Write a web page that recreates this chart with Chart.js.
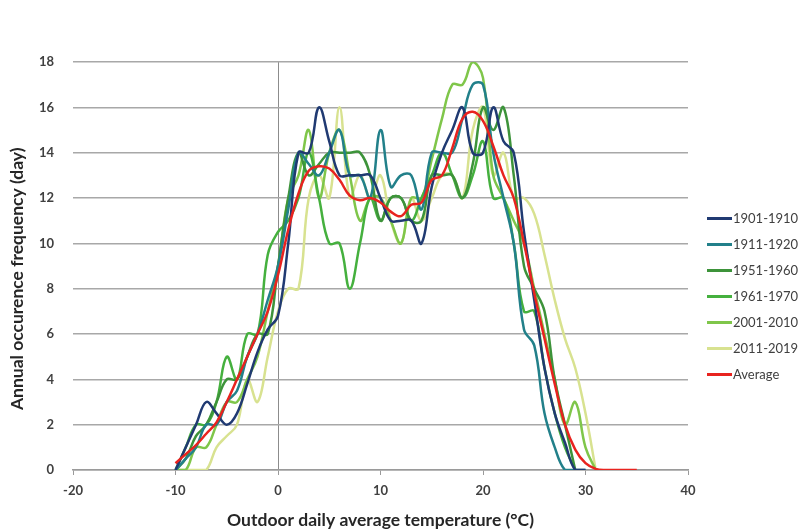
<!DOCTYPE html>
<html>
<head>
<meta charset="utf-8">
<script src="https://cdn.jsdelivr.net/npm/chart.js@4.4.1/dist/chart.umd.min.js"></script>
<style>
  body { margin: 0; background: #fff; }
  #wrap { position: relative; width: 804px; height: 532px; }
  #legend { position: absolute; left: 707px; top: 205px; font-family: Lato, "Open Sans", sans-serif; font-size: 13px; color: #404040; }
  .item { height: 26px; display: flex; align-items: center; }
  .swatch { width: 25px; height: 3px; margin-right: 1px; }
</style>
</head>
<body>
<div id="wrap">
  <canvas id="tempChart" width="804" height="532"></canvas>
  <div id="legend"></div>
</div>
<script>
// Outdoor daily average temperature (°C), one point per degree
const temps = [-10, -9, -8, -7, -6, -5, -4, -3, -2, -1, 0, 1, 2, 3, 4, 5, 6, 7, 8, 9,
    10, 11, 12, 13, 14, 15, 16, 17, 18, 19, 20, 21, 22, 23, 24, 25, 26, 27, 28, 29,
    30, 31, 32, 33, 34, 35];

// Annual occurrence frequency (days) per period
const days1901 = [0, 1, 2, 3, 2.5, 2, 2.5, 3.8, 5.2, 6.2, 6.8, 10, 14, 14, 16, 14.5, 13, 13, 13, 13,
    12, 11, 11, 11, 10, 12.5, 14, 15, 16, 14, 14, 16, 14.5, 14, 10.5, 7.5, 4.5, 2.5, 1.2, 0,
    0];
const days1911 = [0, 0.5, 1, 2, 2, 3, 3.5, 5, 6, 7.5, 9, 11.5, 14, 13.5, 13, 14, 15, 13, 13, 12,
    15, 12.5, 13, 13, 11.5, 14, 14, 14, 15.5, 17, 17, 14, 12, 10, 6.2, 5.5, 2.5, 1, 0, 0,
    0];
const days1951 = [0, 0.5, 1.5, 2, 3, 4, 4, 5, 6, 6, 9, 12, 14, 13, 13.5, 14, 14, 14, 14, 13,
    11, 12, 12, 11, 11, 13, 13, 13, 12, 13.5, 16, 15, 16, 13, 9, 8, 7, 4, 2, 0];
const days1961 = [0, 1, 2, 2, 3, 5, 4, 6, 6, 9.5, 10.5, 11, 12, 14, 12, 10, 10, 8, 10, 12,
    11, 12, 12, 11, 12, 13, 14, 13, 12, 13, 14.5, 12, 12, 10, 7, 7, 4.5, 2.5, 1, 0];
const days2001 = [0, 0, 1, 1, 2, 3, 3, 4, 5, 7, 9, 12, 13, 15, 12, 14, 15, 13, 11, 12,
    12, 11, 10, 12, 12, 13.7, 15.5, 17, 17, 18, 17.3, 13, 12, 11, 10, 8, 6, 4, 2, 3,
    1, 0];
const days2011 = [0, 0, 0, 0, 1, 1.5, 2, 4, 3, 5, 7, 8, 8, 12, 13, 12, 16, 12, 13, 12,
    13, 11, 10, 12, 11, 12, 13, 13, 12, 15, 16, 13, 14, 12, 12, 11.3, 9.5, 7.5, 5.8, 4.5,
    2.5, 0];
const daysAverage = [0.3, 0.7, 1.1, 1.6, 2.1, 3, 4, 5, 6, 7, 8.6, 10.6, 12.2, 13.2, 13.4, 13.3, 12.8, 12.1, 11.9, 12,
    11.8, 11.4, 11.2, 11.7, 11.8, 12.8, 13, 14.2, 15.5, 15.8, 15.4, 14.3, 13, 12, 10, 7.8, 5.8, 3.8, 2, 0.9,
    0.3, 0.05, 0, 0, 0, 0];

const seriesLabels = ['1901-1910', '1911-1920', '1951-1960', '1961-1970', '2001-2010', '2011-2019', 'Average'];
const seriesValues = [days1901, days1911, days1951, days1961, days2001, days2011, daysAverage];
const seriesColors = ['#203a72', '#22808a', '#3d933a', '#45b03e', '#7fc64a', '#d8e290', '#e8231f'];

function toPoints(values) {
    return values.map((v, i) => ({ x: temps[i], y: v }));
}

const datasets = seriesLabels.map((label, i) => ({
    label: label,
    data: toPoints(seriesValues[i]),
    borderColor: seriesColors[i],
    backgroundColor: seriesColors[i],
    borderWidth: 2.5,
    pointRadius: 0,
    tension: 0.4,
    fill: false,
    order: label === 'Average' ? 0 : 1,
}));

const tickFont = { family: 'Lato, "Open Sans", sans-serif', size: 13, weight: 'bold' };
const titleFont = { family: 'Lato, "Open Sans", sans-serif', size: 17.5, weight: 'bold' };

const chart = new Chart(document.getElementById('tempChart'), {
    type: 'line',
    data: { datasets: datasets },
    options: {
        responsive: false,
        animation: false,
        layout: { padding: { left: 0, right: 116, top: 62, bottom: 0 } },
        plugins: {
            legend: { display: false },
            tooltip: { enabled: false },
        },
        scales: {
            x: {
                type: 'linear',
                min: -20,
                max: 40,
                ticks: { stepSize: 10, color: '#404040', font: tickFont, padding: 8 },
                grid: {
                    color: (ctx) => ctx.tick && ctx.tick.value === 0 ? '#8c8c8c' : 'rgba(0,0,0,0)',
                    tickColor: '#9a9a9a',
                    tickLength: 5,
                    lineWidth: 1,
                },
                border: { color: '#9a9a9a', width: 1.5 },
                title: {
                    display: true,
                    text: 'Outdoor daily average temperature (°C)',
                    color: '#262626',
                    font: titleFont,
                    padding: { top: 0, bottom: 1 },
                },
                afterFit: (scale) => { scale.height = 62; },
            },
            y: {
                min: 0,
                max: 18,
                ticks: { stepSize: 2, color: '#404040', font: tickFont, padding: 19 },
                grid: { color: '#a8a8a8', lineWidth: 1.5, drawTicks: false },
                border: { display: false },
                title: {
                    display: true,
                    // trailing spaces nudge the rotated title down a little
                    text: 'Annual occurence frequency (day)      ',
                    color: '#262626',
                    font: titleFont,
                    padding: { top: 7, bottom: 0 },
                },
                afterFit: (scale) => { scale.width = 73; },
            },
        },
    },
});

// Legend built from the chart's datasets
const legend = document.getElementById('legend');
chart.data.datasets.forEach((ds) => {
    const item = document.createElement('div');
    item.className = 'item';
    item.innerHTML = `<span class="swatch" style="background:${ds.borderColor}"></span><span>${ds.label}</span>`;
    legend.appendChild(item);
});
</script>
</body>
</html>
